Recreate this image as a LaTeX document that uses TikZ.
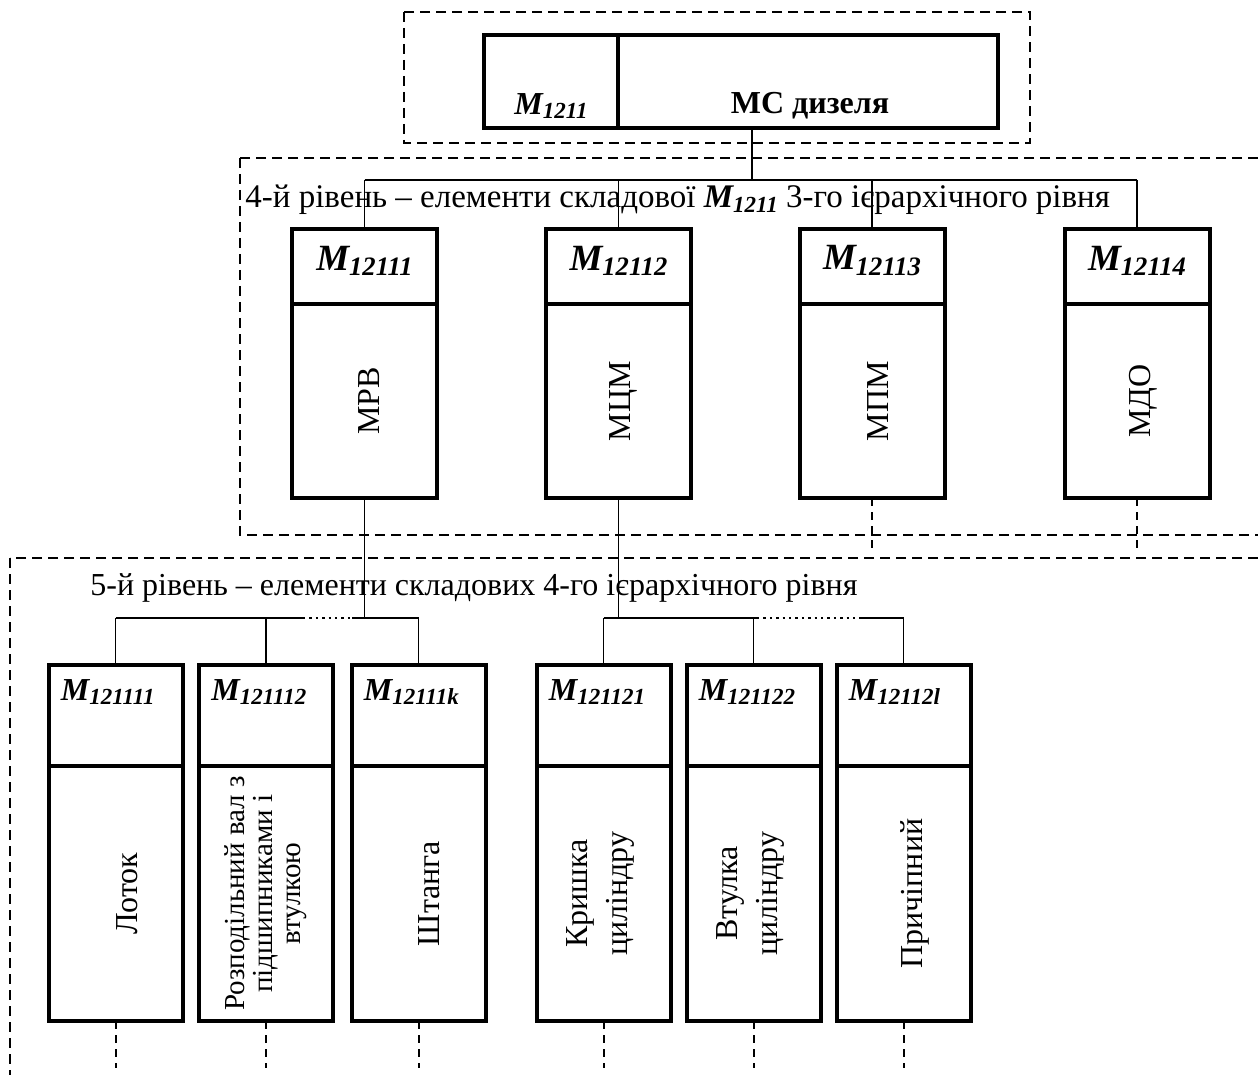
\documentclass[tikz,border=0pt]{standalone}
\usepackage{fontspec}
\setmainfont{Liberation Serif}
\usetikzlibrary{positioning}

\newcommand{\mname}[1]{\textbf{\textit{M\raisebox{-0.3ex}{\fontsize{11.5}{12}\selectfont #1}}}}
\newcommand{\mnamebig}[1]{\textbf{\textit{\fontsize{18.5}{20}\selectfont M\raisebox{-0.3ex}{\fontsize{13.3}{14}\selectfont #1}}}}

\begin{document}
\begin{tikzpicture}[x=0.5pt, y=-0.5pt]
        % Define the styles for cells, texts and lines
        \tikzstyle{frame}=[draw, line width=1pt, dash pattern=on 5pt off 3pt]
        \tikzstyle{cell}=[rectangle, draw, line width=2pt, outer sep=0pt, inner sep=0pt]
        \tikzstyle{topcell}=[cell, minimum height=46.5pt]
        \tikzstyle{headfour}=[cell, minimum width=72.5pt, minimum height=37.5pt]
        \tikzstyle{bodyfour}=[cell, minimum width=72.5pt, minimum height=97pt]
        \tikzstyle{headfive}=[cell, minimum width=67pt, minimum height=50.5pt]
        \tikzstyle{bodyfive}=[cell, minimum width=67pt, minimum height=127.5pt]
        \tikzstyle{txt}=[inner sep=0pt, font=\fontsize{16}{18}\selectfont]
        \tikzstyle{vtxt}=[txt, rotate=90, align=center]
        \tikzstyle{bus}=[line width=1.2pt]
        \tikzstyle{link}=[line width=0.8pt]
        \tikzstyle{open}=[line width=1pt, dash pattern=on 4pt off 3pt]

        \clip (0,0) rectangle (1258,1075);

        % Define the dashed frames of the levels
        \draw[frame] (404,12) rectangle (1030,143);
        \draw[frame] (240,158) rectangle (1300,535);
        \draw[frame] (10,558) rectangle (1300,1100);

        % Define the top model
        \node[topcell, minimum width=67pt, anchor=north west] (m1211) at (484,35) {};
        \node[topcell, minimum width=190pt, right=0pt of m1211] (ms) {};
        \node[txt] (lm1211) at (551,106) {\mname{1211}};
        \node[txt] (lms) at (810,106) {\textbf{МС дизеля}};

        % Define the level 4 cells
        \node[txt, anchor=west, font=\fontsize{16.5}{18}\selectfont] (lvl4) at (245,200) {4-й рівень – елементи складової \mname{1211} 3-го ієрархічного рівня};
        \node[headfour, anchor=north] (m12111) at (364.5,229) {};
        \node[bodyfour, below=0pt of m12111] (b12111) {};
        \node[headfour, anchor=north] (m12112) at (618.5,229) {};
        \node[bodyfour, below=0pt of m12112] (b12112) {};
        \node[headfour, anchor=north] (m12113) at (872,229) {};
        \node[bodyfour, below=0pt of m12113] (b12113) {};
        \node[headfour, anchor=north] (m12114) at (1137,229) {};
        \node[bodyfour, below=0pt of m12114] (b12114) {};

        \node[txt] (l12111) at ([yshift=3pt]m12111.center) {\mnamebig{12111}};
        \node[txt] (l12112) at ([yshift=3pt]m12112.center) {\mnamebig{12112}};
        \node[txt] (l12113) at ([yshift=3pt]m12113.center) {\mnamebig{12113}};
        \node[txt] (l12114) at ([yshift=3pt]m12114.center) {\mnamebig{12114}};
        \node[vtxt] (t12111) at ([xshift=2.5pt]b12111.center) {МРВ};
        \node[vtxt] (t12112) at ([xshift=2.5pt]b12112.center) {МЦМ};
        \node[vtxt] (t12113) at ([xshift=3pt]b12113.center) {МПМ};
        \node[vtxt] (t12114) at ([xshift=3pt]b12114.center) {МДО};

        % Define the level 5 cells
        \node[txt, anchor=west] (lvl5) at (90,588) {5-й рівень – елементи складових 4-го ієрархічного рівня};
        \node[headfive, anchor=north] (m121111) at (115.5,665) {};
        \node[bodyfive, below=0pt of m121111] (b121111) {};
        \node[headfive, anchor=north] (m121112) at (266,665) {};
        \node[bodyfive, below=0pt of m121112] (b121112) {};
        \node[headfive, anchor=north] (m12111k) at (418.5,665) {};
        \node[bodyfive, below=0pt of m12111k] (b12111k) {};
        \node[headfive, anchor=north] (m121121) at (603.5,665) {};
        \node[bodyfive, below=0pt of m121121] (b121121) {};
        \node[headfive, anchor=north] (m121122) at (753.5,665) {};
        \node[bodyfive, below=0pt of m121122] (b121122) {};
        \node[headfive, anchor=north] (m12112l) at (903.5,665) {};
        \node[bodyfive, below=0pt of m12112l] (b12112l) {};

        \node[txt, anchor=north west] (l121111) at ([shift={(6pt,-7pt)}]m121111.north west) {\mname{121111}};
        \node[txt, anchor=north west] (l121112) at ([shift={(6pt,-7pt)}]m121112.north west) {\mname{121112}};
        \node[txt, anchor=north west] (l12111k) at ([shift={(6pt,-7pt)}]m12111k.north west) {\mname{12111k}};
        \node[txt, anchor=north west] (l121121) at ([shift={(6pt,-7pt)}]m121121.north west) {\mname{121121}};
        \node[txt, anchor=north west] (l121122) at ([shift={(6pt,-7pt)}]m121122.north west) {\mname{121122}};
        \node[txt, anchor=north west] (l12112l) at ([shift={(6pt,-7pt)}]m12112l.north west) {\mname{12112l}};
        \node[vtxt] (t121111) at ([xshift=6pt]b121111.center) {Лоток};
        \node[vtxt, font=\fontsize{14.5}{14}\selectfont] (t121112) at (b121112.center) {Розподільний вал з\\підшипниками і\\втулкою};
        \node[vtxt] (t12111k) at ([xshift=5.5pt]b12111k.center) {Штанга};
        \node[vtxt, font=\fontsize{16}{20}\selectfont] (t121121) at ([xshift=-1.5pt]b121121.center) {Кришка\\циліндру};
        \node[vtxt, font=\fontsize{16}{20}\selectfont] (t121122) at ([xshift=-1.5pt]b121122.center) {Втулка\\циліндру};
        \node[vtxt] (t12112l) at ([xshift=5.5pt]b12112l.center) {Причіпний};

        % Define the connectors from the top model to level 4
        \coordinate (j4) at (752,180);
        \draw[link] (j4 |- ms.south) -- (j4);
        \draw[bus] (m12111.north |- j4) -- (m12114.north |- j4);
        \draw[link] (m12111.north |- j4) -- (m12111.north);
        \draw[link] (m12112.north |- j4) -- (m12112.north);
        \draw[link] (m12113.north |- j4) -- (m12113.north);
        \draw[link] (m12114.north |- j4) -- (m12114.north);
        \coordinate (e4) at (0,550);
        \draw[open] (b12113.south) -- (b12113.south |- e4);
        \draw[open] (b12114.south) -- (b12114.south |- e4);

        % Define the connectors from level 4 to level 5
        \coordinate (j5) at (0,618);
        \coordinate (da1) at (303,618);
        \coordinate (da2) at (352,618);
        \coordinate (db1) at (757,618);
        \coordinate (db2) at (860,618);
        \draw[link] (b12111.south) -- (b12111.south |- j5);
        \draw[link] (b12112.south) -- (b12112.south |- j5);
        \draw[bus] (m121111.north |- j5) -- (da1);
        \draw[bus, dotted] (da1) -- (da2);
        \draw[bus] (da2) -- (m12111k.north |- j5);
        \draw[bus] (m121121.north |- j5) -- (db1);
        \draw[bus, dotted] (db1) -- (db2);
        \draw[bus] (db2) -- (m12112l.north |- j5);
        \draw[link] (m121111.north |- j5) -- (m121111.north);
        \draw[link] (m121112.north |- j5) -- (m121112.north);
        \draw[link] (m12111k.north |- j5) -- (m12111k.north);
        \draw[link] (m121121.north |- j5) -- (m121121.north);
        \draw[link] (m121122.north |- j5) -- (m121122.north);
        \draw[link] (m12112l.north |- j5) -- (m12112l.north);
        \coordinate (e5) at (0,1068);
        \draw[open] (b121111.south) -- (b121111.south |- e5);
        \draw[open] (b121112.south) -- (b121112.south |- e5);
        \draw[open] (b12111k.south) -- (b12111k.south |- e5);
        \draw[open] (b121121.south) -- (b121121.south |- e5);
        \draw[open] (b121122.south) -- (b121122.south |- e5);
        \draw[open] (b12112l.south) -- (b12112l.south |- e5);
    \end{tikzpicture}
\end{document}
